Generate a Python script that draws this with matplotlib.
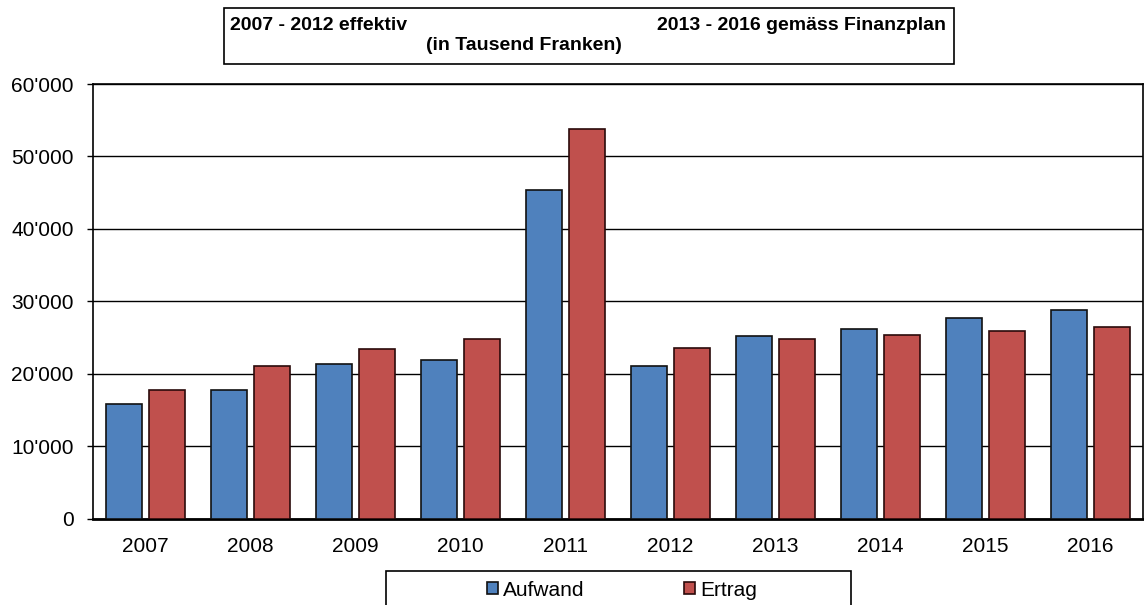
import matplotlib
matplotlib.use("Agg")
import matplotlib.pyplot as plt
import numpy as np
from matplotlib.patches import Rectangle
from matplotlib.ticker import FuncFormatter, MultipleLocator

plt.rcParams['font.family'] = ['Liberation Sans', 'DejaVu Sans']

years = ['2007', '2008', '2009', '2010', '2011', '2012', '2013', '2014', '2015', '2016']
aufwand = [15800, 17800, 21300, 21900, 45300, 21100, 25150, 26150, 27700, 28800]
ertrag = [17800, 21100, 23450, 24750, 53850, 23600, 24800, 25400, 25850, 26400]
series_names = ['Aufwand', 'Ertrag']
colors = ['#4F81BD', '#C0504D']

W, H = 1144, 605
fig = plt.figure(figsize=(W / 100, H / 100), dpi=100)
ax = fig.add_axes([93 / W, 1 - 518.5 / H, (1143 - 93) / W, (518.5 - 84) / H])

x = np.arange(len(years))
bw = 0.34
off = 0.205
b1 = ax.bar(x - off, aufwand, bw, color=colors[0], edgecolor='#111111', linewidth=1.2, zorder=3, label=series_names[0])
b2 = ax.bar(x + off, ertrag, bw, color=colors[1], edgecolor='#2a0a0a', linewidth=1.2, zorder=3, label=series_names[1])

ax.set_xlim(-0.5, len(years) - 0.5)
ax.set_ylim(0, 60000)
ax.yaxis.set_major_locator(MultipleLocator(10000))
ax.yaxis.set_major_formatter(FuncFormatter(lambda v, p: f"{int(v):,}".replace(',', "'")))
ax.set_xticks(x)
ax.set_xticklabels(years)
ax.tick_params(axis='x', length=0, pad=13, labelsize=15)
ax.tick_params(axis='y', length=4, width=1, pad=10, labelsize=15, direction='out')
ax.yaxis.grid(True, color='black', linewidth=1, zorder=0)
ax.set_axisbelow(True)
for s in ['top', 'right', 'left']:
    ax.spines[s].set_linewidth(1.2)
    ax.spines[s].set_color('black')
ax.spines['bottom'].set_linewidth(2)
ax.spines['bottom'].set_color('black')

# title box
fig.patches.append(Rectangle((224 / W, 1 - 64 / H), (954 - 224) / W, (64 - 8) / H,
                             transform=fig.transFigure, fill=False, edgecolor='black', linewidth=1.2))
fig.text(230 / W, 1 - 25 / H, '2007 - 2012 effektiv', ha='left', va='center', fontsize=14, fontweight='bold')
fig.text(946 / W, 1 - 25 / H, '2013 - 2016 gemäss Finanzplan', ha='right', va='center', fontsize=14, fontweight='bold')
fig.text(524 / W, 1 - 45 / H, '(in Tausend Franken)', ha='center', va='center', fontsize=14, fontweight='bold')

# legend box
fig.patches.append(Rectangle((386 / W, -0.02), (851 - 386) / W, (1 - 571 / H) + 0.02,
                             transform=fig.transFigure, fill=False, edgecolor='black', linewidth=1.2))
leg = fig.legend(handles=[b1, b2], labels=series_names, loc='center', bbox_to_anchor=(622 / W, 1 - 590 / H),
                 ncol=2, frameon=False, fontsize=15, handlelength=0.55, handleheight=0.55,
                 handletextpad=0.25, columnspacing=4.75, borderpad=0)

fig.savefig('out.png', dpi=100)
